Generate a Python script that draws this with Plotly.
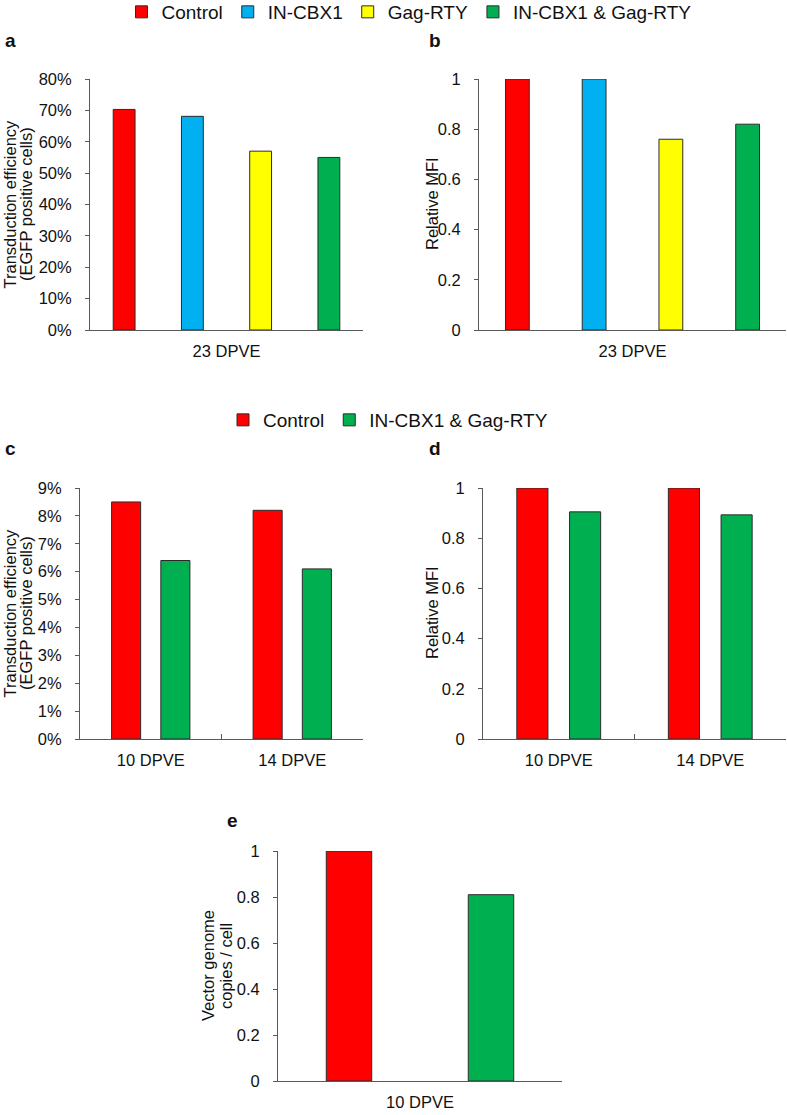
import plotly.graph_objects as go

# ---------------- data ----------------
groups4 = ["Control", "IN-CBX1", "Gag-RTY", "IN-CBX1 & Gag-RTY"]
groups2 = ["Control", "IN-CBX1 & Gag-RTY"]

cat_a = ["23 DPVE"]
eff_a = [0.703, 0.681, 0.570, 0.550]          # panel a, transduction efficiency

cat_b = ["23 DPVE"]
mfi_b = [1.0, 1.0, 0.76, 0.82]                # panel b, relative MFI

cat_cd = ["10 DPVE", "14 DPVE"]
eff_c_control = [0.085, 0.082]                # panel c
eff_c_combo = [0.064, 0.061]
mfi_d_control = [1.0, 1.0]                    # panel d
mfi_d_combo = [0.905, 0.893]

cat_e = ["10 DPVE"]
vgc_e = [1.0, 0.81]                           # panel e, vector genome copies / cell

# ---------------- style ----------------
colors = {"Control": "#FF0000", "IN-CBX1": "#00B0F0",
          "Gag-RTY": "#FFFF00", "IN-CBX1 & Gag-RTY": "#00B050"}
FONT = "Liberation Sans, Arial, sans-serif"
AXC = "#595959"
OUTL = "#2b2b2b"
W, H = 787, 1115


def px_x(p):
    return p / W


def px_y(p):
    return 1 - p / H


def geom(i, n, gap, groupgap):
    slot = (1 - gap) / n
    width = slot * (1 - groupgap)
    offset = -(1 - gap) / 2 + i * slot + (slot - width) / 2
    return width, offset


fig = go.Figure()


def add_bar(name, x, y, xa, ya, i, n, gap, ggap, legend=None):
    w, off = geom(i, n, gap, ggap)
    fig.add_trace(go.Bar(
        x=x, y=y, name=name, xaxis=xa, yaxis=ya,
        width=w, offset=off,
        marker=dict(color=colors[name], line=dict(color=OUTL, width=1)),
        showlegend=legend is not None, legend=legend or "legend",
        hoverinfo="y"))


# panel a
for i, g in enumerate(groups4):
    add_bar(g, cat_a, [eff_a[i]], "x", "y", i, 4, 0.0, 0.68, legend="legend")
# panel b
for i, g in enumerate(groups4):
    add_bar(g, cat_b, [mfi_b[i]], "x2", "y2", i, 4, 0.0, 0.69)
# panel c
add_bar("Control", cat_cd, eff_c_control, "x3", "y3", 0, 2, 0.304, 0.41, legend="legend2")
add_bar("IN-CBX1 & Gag-RTY", cat_cd, eff_c_combo, "x3", "y3", 1, 2, 0.304, 0.41, legend="legend2")
# panel d
add_bar("Control", cat_cd, mfi_d_control, "x4", "y4", 0, 2, 0.304, 0.41)
add_bar("IN-CBX1 & Gag-RTY", cat_cd, mfi_d_combo, "x4", "y4", 1, 2, 0.304, 0.41)
# panel e
add_bar("Control", cat_e, [vgc_e[0]], "x5", "y5", 0, 2, 0.0, 0.68)
add_bar("IN-CBX1 & Gag-RTY", cat_e, [vgc_e[1]], "x5", "y5", 1, 2, 0.0, 0.68)

tickfont = dict(family=FONT, size=16.5, color="#111111")


def xaxis_cfg(domain, anchor, ncat, boundaries=False):
    cfg = dict(domain=domain, anchor=anchor, showline=True, linecolor=AXC,
               linewidth=1, showgrid=False, zeroline=False, tickfont=tickfont,
               range=[-0.5, ncat - 0.5], fixedrange=True, ticklabelstandoff=6,
               automargin=False)
    if boundaries:
        cfg.update(ticks="inside", tickson="boundaries", ticklen=5,
                   tickcolor=AXC, tickwidth=1)
    else:
        cfg.update(ticks="")
    return cfg


def yaxis_cfg(domain, anchor, rng, dtick, fmt=None):
    cfg = dict(domain=domain, anchor=anchor, range=rng, dtick=dtick, tick0=0,
               showline=True, linecolor=AXC, linewidth=1, ticks="outside",
               ticklen=4, tickcolor=AXC, tickwidth=1, showgrid=False,
               zeroline=False, tickfont=tickfont, fixedrange=True,
               ticklabelstandoff=10, automargin=False)
    if fmt:
        cfg["tickformat"] = fmt
    return cfg


yd_top = [px_y(330), px_y(79)]
yd_mid = [px_y(739), px_y(488)]
yd_bot = [px_y(1081), px_y(851)]

fig.update_layout(
    width=W, height=H,
    margin=dict(l=0, r=0, t=0, b=0, pad=0, autoexpand=False),
    paper_bgcolor="white", plot_bgcolor="white",
    barmode="overlay",
    font=dict(family=FONT, color="#111111"),
    xaxis=xaxis_cfg([px_x(90), px_x(363)], "y", 1),
    yaxis=yaxis_cfg(yd_top, "x", [0, 0.8], 0.1, ".0%"),
    xaxis2=xaxis_cfg([px_x(479), px_x(786)], "y2", 1),
    yaxis2=yaxis_cfg(yd_top, "x2", [0, 1], 0.2),
    xaxis3=xaxis_cfg([px_x(80), px_x(363)], "y3", 2, boundaries=True),
    yaxis3=yaxis_cfg(yd_mid, "x3", [0, 0.09], 0.01, ".0%"),
    xaxis4=xaxis_cfg([px_x(483), px_x(786)], "y4", 2, boundaries=True),
    yaxis4=yaxis_cfg(yd_mid, "x4", [0, 1], 0.2),
    xaxis5=xaxis_cfg([px_x(278), px_x(562)], "y5", 1),
    yaxis5=yaxis_cfg(yd_bot, "x5", [0, 1], 0.2),
    legend=dict(orientation="h", x=px_x(409), xanchor="center",
                y=px_y(12), yanchor="middle",
                font=dict(family=FONT, size=19, color="#111111"),
                bgcolor="rgba(0,0,0,0)", itemclick=False),
    legend2=dict(orientation="h", x=px_x(388), xanchor="center",
                 y=px_y(420), yanchor="middle",
                 font=dict(family=FONT, size=19, color="#111111"),
                 bgcolor="rgba(0,0,0,0)", itemclick=False),
)

annotations = []
# panel letters
for letter, x, y in [("a", 3, 41), ("b", 427, 41), ("c", 3, 448),
                     ("d", 427, 448), ("e", 225, 820)]:
    annotations.append(dict(text=f"<b>{letter}</b>", x=px_x(x), y=px_y(y),
                            xref="paper", yref="paper", xanchor="left",
                            yanchor="middle", showarrow=False,
                            font=dict(family=FONT, size=19, color="#111111")))

# y-axis titles
ytitles = [("Transduction efficiency", 9.5, 204), ("(EGFP positive cells)", 26, 204),
           ("Relative MFI", 432, 204),
           ("Transduction efficiency", 9.5, 613), ("(EGFP positive cells)", 26, 613),
           ("Relative MFI", 432, 613),
           ("Vector genome", 208, 966), ("copies / cell", 226, 966)]
for txt, x, y in ytitles:
    annotations.append(dict(text=txt, x=px_x(x), y=px_y(y), xref="paper",
                            yref="paper", xanchor="center", yanchor="middle",
                            textangle=-90, showarrow=False,
                            font=dict(family=FONT, size=16.5, color="#111111")))

fig.update_layout(annotations=annotations)

fig.write_html(
    "out.html",
    config={"displayModeBar": False},
    post_script="document.body.style.margin='0';document.body.style.overflow='hidden';",
)
